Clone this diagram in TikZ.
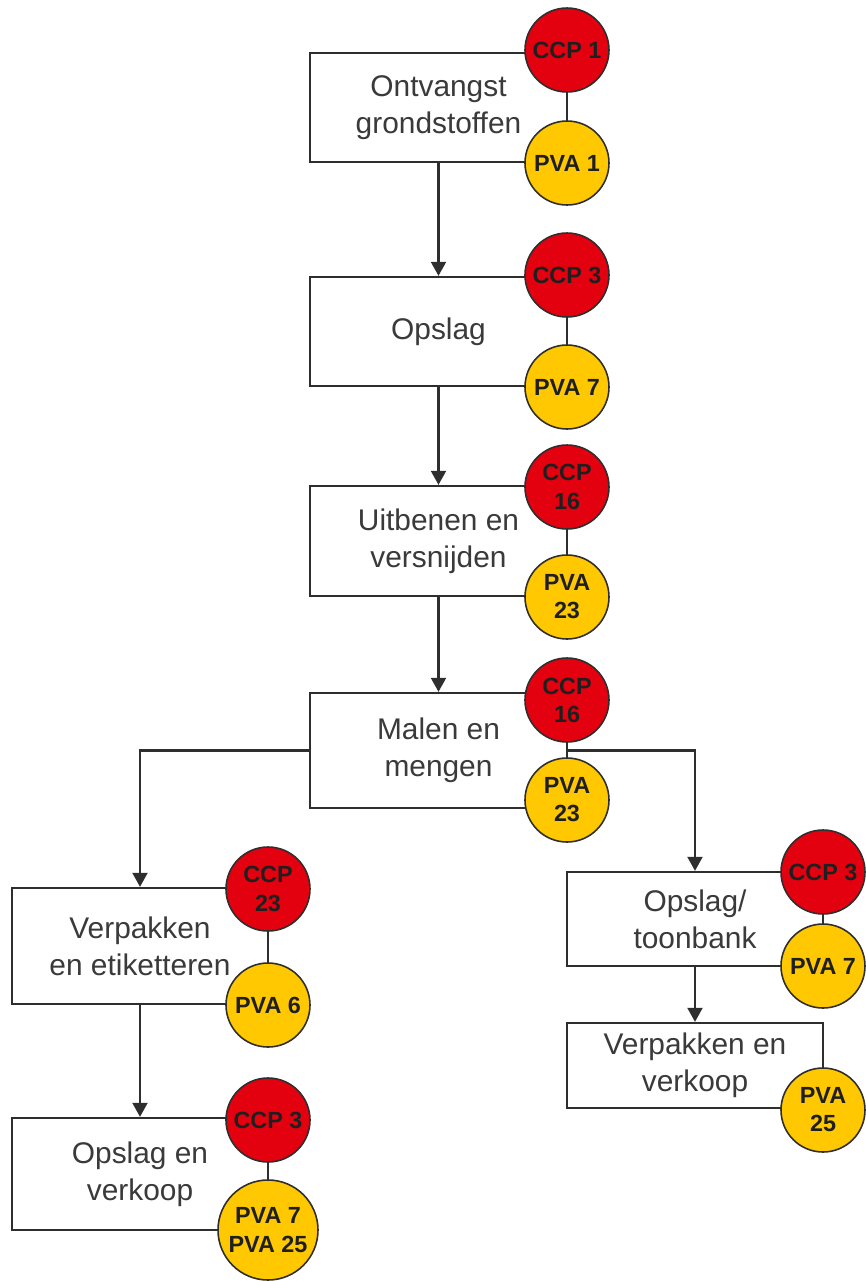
\documentclass[tikz,border=0pt]{standalone}
\usepackage{fontspec}
\setmainfont{Liberation Sans}
\usetikzlibrary{arrows.meta}
\definecolor{ccpred}{HTML}{E3000F}
\definecolor{pvayellow}{HTML}{FFC800}
\definecolor{linegray}{HTML}{2E2E2E}
\definecolor{textgray}{HTML}{3A3A3A}
\tikzset{
  stepbox/.style={draw=linegray, line width=1.3pt, fill=white, inner sep=0pt,
    align=center, text=textgray,
    font=\fontsize{17pt}{21pt}\selectfont},
  ccp/.style={circle, draw=linegray, line width=0.9pt, fill=ccpred, inner sep=0pt,
    minimum size=1.68cm, align=center, text=black!88,
    font=\fontsize{13.3pt}{16pt}\selectfont\bfseries},
  pva/.style={ccp, fill=pvayellow},
  link/.style={draw=linegray, line width=1.3pt},
  flow/.style={link, -{Triangle[length=8pt,width=8.5pt]}},
}
\begin{document}
\begin{tikzpicture}
\useasboundingbox (0,0) rectangle (17.32,-25.62);

% process steps
\node[stepbox, minimum width=5.14cm, minimum height=2.18cm] (b1) at (8.77,-2.15) {Ontvangst\\grondstoffen};
\node[stepbox, minimum width=5.14cm, minimum height=2.18cm] (b2) at (8.77,-6.63) {Opslag};
\node[stepbox, minimum width=5.14cm, minimum height=2.20cm] (b3) at (8.77,-10.82) {Uitbenen en\\versnijden};
\node[stepbox, minimum width=5.14cm, minimum height=2.30cm] (b4) at (8.77,-15.01) {Malen en\\mengen};
\node[stepbox, minimum width=5.12cm, minimum height=2.32cm] (b5) at (2.80,-18.92) {Verpakken\\en etiketteren};
\node[stepbox, minimum width=5.12cm, minimum height=2.24cm] (b6) at (2.80,-23.48) {Opslag en\\verkoop};
\node[stepbox, minimum width=5.12cm, minimum height=1.88cm] (b7) at (13.90,-18.38) {Opslag/\\toonbank};
\node[stepbox, minimum width=5.12cm, minimum height=1.70cm] (b8) at (13.90,-21.31) {Verpakken en\\verkoop};

% flow between steps
\draw[flow] (b1.south) -- (b2.north);
\draw[flow] (b2.south) -- (b3.north);
\draw[flow] (b3.south) -- (b4.north);
\draw[flow] (b4.west) -| (b5.north);
\draw[flow] (b4.east) -| (b7.north);
\draw[flow] (b5.south) -- (b6.north);
\draw[flow] (b7.south) -- (b8.north);

% control points
\node[ccp] (c1) at (11.34,-1.00) {CCP 1};
\node[pva] (p1) at (11.34,-3.26) {PVA 1};
\node[ccp] (c2) at (11.34,-5.50) {CCP 3};
\node[pva] (p2) at (11.34,-7.74) {PVA 7};
\node[ccp] (c3) at (11.34,-9.74) {CCP\\16};
\node[pva] (p3) at (11.34,-11.94) {PVA\\23};
\node[ccp] (c4) at (11.34,-14.00) {CCP\\16};
\node[pva] (p4) at (11.34,-16.00) {PVA\\23};
\node[ccp] (c5) at (5.36,-17.78) {CCP\\23};
\node[pva] (p5) at (5.36,-20.10) {PVA 6};
\node[ccp] (c6) at (5.36,-22.40) {CCP 3};
\node[pva, minimum size=2.0cm] (p6) at (5.36,-24.60) {PVA 7\\PVA 25};
\node[ccp] (c7) at (16.46,-17.44) {CCP 3};
\node[pva] (p7) at (16.46,-19.32) {PVA 7};
\node[pva] (p8) at (16.46,-22.20) {PVA\\25};

% links between paired control points
\foreach \a/\b in {c1/p1,c2/p2,c3/p3,c4/p4,c5/p5,c6/p6,c7/p7}
  \draw[link] (\a.south) -- (\b.north);
\end{tikzpicture}
\end{document}
